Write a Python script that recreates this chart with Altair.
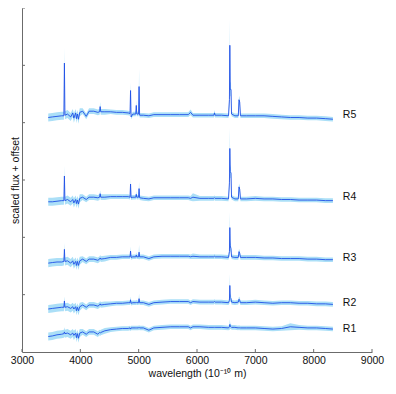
import altair as alt
import pandas as pd

# shared wavelength grid (Angstrom)
wl = [3450, 3520, 3600, 3680, 3718, 3727, 3736, 3780, 3835, 3870, 3889, 3920, 3934, 3950, 3968, 3990,
      4040, 4101, 4150, 4230, 4300, 4330, 4340, 4350, 4420, 4520, 4620, 4720, 4820, 4852, 4861, 4870,
      4900, 4950, 4959, 4968, 4998, 5007, 5016, 5080, 5175, 5260, 5400, 5550, 5700, 5850, 5890, 5930,
      6050, 6200, 6290, 6300, 6310, 6420, 6540, 6556, 6563, 6570, 6583, 6592, 6650, 6708, 6720, 6732,
      6745, 6850, 7000, 7150, 7300, 7450, 7600, 7750, 7900, 8050, 8200, 8330]

names = ["R1", "R2", "R3", "R4", "R5"]

flux_R1 = [0.27, 0.28, 0.30, 0.31, 0.32, 0.35, 0.32, 0.33, 0.30, 0.33, 0.29, 0.33, 0.25, 0.32, 0.24, 0.33,
           0.35, 0.31, 0.35, 0.35, 0.31, 0.34, 0.33, 0.34, 0.37, 0.39, 0.40, 0.41, 0.41, 0.42, 0.40, 0.42,
           0.42, 0.42, 0.42, 0.42, 0.42, 0.43, 0.42, 0.42, 0.38, 0.42, 0.43, 0.44, 0.44, 0.44, 0.42, 0.44,
           0.44, 0.43, 0.43, 0.43, 0.43, 0.43, 0.42, 0.44, 0.48, 0.45, 0.44, 0.43, 0.43, 0.42, 0.43, 0.42,
           0.42, 0.42, 0.42, 0.41, 0.40, 0.41, 0.44, 0.43, 0.42, 0.42, 0.41, 0.40]
flux_R2 = [0.75, 0.76, 0.77, 0.78, 0.78, 0.89, 0.78, 0.79, 0.76, 0.79, 0.75, 0.79, 0.72, 0.78, 0.72, 0.79,
           0.82, 0.78, 0.82, 0.82, 0.80, 0.82, 0.84, 0.82, 0.83, 0.84, 0.85, 0.85, 0.86, 0.86, 0.91, 0.85,
           0.86, 0.86, 0.87, 0.86, 0.86, 0.93, 0.86, 0.86, 0.83, 0.86, 0.87, 0.88, 0.88, 0.88, 0.86, 0.88,
           0.87, 0.87, 0.87, 0.88, 0.87, 0.87, 0.86, 0.90, 1.16, 0.95, 0.93, 0.87, 0.86, 0.87, 0.92, 0.90,
           0.86, 0.86, 0.87, 0.86, 0.85, 0.86, 0.86, 0.85, 0.85, 0.84, 0.84, 0.83]
flux_R3 = [1.55, 1.56, 1.57, 1.57, 1.58, 1.79, 1.58, 1.59, 1.55, 1.59, 1.53, 1.58, 1.51, 1.58, 1.51, 1.59,
           1.62, 1.58, 1.62, 1.62, 1.60, 1.62, 1.64, 1.62, 1.63, 1.65, 1.65, 1.66, 1.66, 1.66, 1.76, 1.65,
           1.66, 1.66, 1.69, 1.66, 1.66, 1.74, 1.66, 1.66, 1.63, 1.66, 1.67, 1.67, 1.67, 1.67, 1.66, 1.67,
           1.66, 1.66, 1.66, 1.67, 1.66, 1.66, 1.65, 1.75, 2.17, 1.85, 1.80, 1.66, 1.65, 1.65, 1.75, 1.72,
           1.65, 1.65, 1.65, 1.64, 1.64, 1.63, 1.63, 1.63, 1.62, 1.62, 1.61, 1.61]
flux_R4 = [2.62, 2.62, 2.63, 2.64, 2.64, 3.07, 2.64, 2.66, 2.62, 2.66, 2.60, 2.66, 2.59, 2.65, 2.58, 2.68,
           2.70, 2.66, 2.70, 2.70, 2.69, 2.70, 2.76, 2.70, 2.70, 2.71, 2.71, 2.71, 2.71, 2.70, 2.93, 2.69,
           2.70, 2.70, 2.75, 2.70, 2.70, 2.85, 2.69, 2.68, 2.67, 2.69, 2.69, 2.69, 2.69, 2.69, 2.68, 2.70,
           2.68, 2.68, 2.68, 2.69, 2.68, 2.68, 2.67, 2.95, 3.55, 3.15, 3.12, 2.70, 2.67, 2.67, 2.88, 2.84,
           2.67, 2.67, 2.68, 2.67, 2.67, 2.66, 2.66, 2.65, 2.65, 2.65, 2.64, 2.64]
flux_R5 = [4.09, 4.10, 4.11, 4.12, 4.12, 5.04, 4.13, 4.15, 4.10, 4.17, 4.08, 4.17, 4.07, 4.15, 4.06, 4.18,
           4.20, 4.11, 4.20, 4.20, 4.18, 4.19, 4.28, 4.19, 4.19, 4.19, 4.18, 4.18, 4.17, 4.16, 4.56, 4.10,
           4.15, 4.15, 4.30, 4.15, 4.15, 4.63, 4.13, 4.13, 4.12, 4.14, 4.14, 4.14, 4.14, 4.14, 4.18, 4.13,
           4.13, 4.13, 4.13, 4.17, 4.13, 4.13, 4.12, 4.40, 5.35, 4.58, 4.58, 4.15, 4.12, 4.12, 4.40, 4.36,
           4.12, 4.12, 4.12, 4.12, 4.11, 4.10, 4.09, 4.09, 4.08, 4.08, 4.07, 4.06]

err_R1 = [0.07, 0.07, 0.07, 0.07, 0.07, 0.08, 0.07, 0.07, 0.07, 0.07, 0.08, 0.07, 0.08, 0.07, 0.08, 0.07,
          0.05, 0.05, 0.05, 0.05, 0.05, 0.05, 0.05, 0.05, 0.05, 0.04, 0.04, 0.04, 0.04, 0.04, 0.04, 0.04,
          0.04, 0.04, 0.04, 0.04, 0.04, 0.04, 0.04, 0.04, 0.04, 0.04, 0.04, 0.04, 0.04, 0.04, 0.04, 0.04,
          0.04, 0.04, 0.04, 0.04, 0.04, 0.04, 0.04, 0.05, 0.09, 0.05, 0.04, 0.04, 0.04, 0.04, 0.04, 0.04,
          0.04, 0.04, 0.04, 0.04, 0.04, 0.04, 0.06, 0.04, 0.04, 0.04, 0.04, 0.04]
err_R2 = [0.07, 0.07, 0.07, 0.07, 0.07, 0.08, 0.07, 0.07, 0.07, 0.07, 0.08, 0.07, 0.08, 0.07, 0.08, 0.07,
          0.05, 0.05, 0.05, 0.05, 0.05, 0.05, 0.05, 0.05, 0.05, 0.04, 0.04, 0.04, 0.04, 0.04, 0.06, 0.04,
          0.04, 0.04, 0.04, 0.04, 0.04, 0.09, 0.04, 0.04, 0.04, 0.04, 0.04, 0.04, 0.04, 0.04, 0.04, 0.04,
          0.04, 0.04, 0.04, 0.04, 0.04, 0.04, 0.04, 0.06, 0.20, 0.07, 0.06, 0.04, 0.04, 0.04, 0.05, 0.05,
          0.04, 0.04, 0.04, 0.04, 0.04, 0.04, 0.04, 0.04, 0.04, 0.04, 0.04, 0.04]
err_R3 = [0.07, 0.07, 0.07, 0.07, 0.07, 0.11, 0.07, 0.07, 0.07, 0.07, 0.08, 0.07, 0.08, 0.07, 0.08, 0.07,
          0.05, 0.05, 0.05, 0.05, 0.05, 0.05, 0.05, 0.05, 0.05, 0.04, 0.04, 0.04, 0.04, 0.04, 0.08, 0.04,
          0.04, 0.04, 0.05, 0.04, 0.04, 0.13, 0.04, 0.04, 0.04, 0.04, 0.04, 0.04, 0.04, 0.04, 0.04, 0.05,
          0.04, 0.04, 0.04, 0.04, 0.04, 0.04, 0.04, 0.07, 0.27, 0.09, 0.07, 0.04, 0.04, 0.04, 0.05, 0.05,
          0.04, 0.04, 0.04, 0.04, 0.04, 0.04, 0.04, 0.04, 0.04, 0.04, 0.04, 0.04]
err_R4 = [0.07, 0.07, 0.07, 0.07, 0.07, 0.18, 0.07, 0.07, 0.07, 0.07, 0.08, 0.07, 0.08, 0.07, 0.08, 0.07,
          0.05, 0.05, 0.05, 0.05, 0.05, 0.05, 0.06, 0.05, 0.05, 0.04, 0.04, 0.04, 0.04, 0.04, 0.09, 0.04,
          0.04, 0.04, 0.06, 0.04, 0.04, 0.12, 0.04, 0.04, 0.04, 0.04, 0.04, 0.04, 0.04, 0.04, 0.04, 0.07,
          0.04, 0.04, 0.04, 0.04, 0.04, 0.04, 0.04, 0.09, 0.36, 0.11, 0.09, 0.04, 0.04, 0.04, 0.06, 0.06,
          0.04, 0.04, 0.04, 0.04, 0.04, 0.04, 0.04, 0.04, 0.04, 0.04, 0.04, 0.04]
err_R5 = [0.07, 0.07, 0.07, 0.07, 0.07, 0.27, 0.07, 0.07, 0.07, 0.07, 0.08, 0.07, 0.08, 0.07, 0.08, 0.07,
          0.05, 0.05, 0.05, 0.05, 0.05, 0.05, 0.08, 0.05, 0.05, 0.04, 0.04, 0.04, 0.04, 0.04, 0.14, 0.04,
          0.04, 0.04, 0.09, 0.04, 0.04, 0.31, 0.04, 0.04, 0.04, 0.04, 0.04, 0.04, 0.04, 0.04, 0.05, 0.04,
          0.04, 0.04, 0.04, 0.05, 0.04, 0.04, 0.04, 0.11, 0.46, 0.13, 0.11, 0.04, 0.04, 0.04, 0.07, 0.07,
          0.04, 0.04, 0.04, 0.04, 0.04, 0.04, 0.04, 0.04, 0.04, 0.04, 0.04, 0.04]

fluxes = [flux_R1, flux_R2, flux_R3, flux_R4, flux_R5]
errs = [err_R1, err_R2, err_R3, err_R4, err_R5]

label_x = 8500
label_y = [0.40, 0.85, 1.64, 2.70, 4.13]
x_ticks = [3000, 4000, 5000, 6000, 7000, 8000, 9000]
y_ticks = [1, 2, 3, 4, 5, 6]

rows = []
for n, fl, er in zip(names, fluxes, errs):
    for w, f, e in zip(wl, fl, er):
        rows.append({"series": n, "wl": w, "flux": f, "lo": f - e, "hi": f + e})
df = pd.DataFrame(rows)
lab_df = pd.DataFrame({"name": names, "x": [label_x] * 5, "y": label_y})
xt_df = pd.DataFrame({"t": x_ticks})
yt_df = pd.DataFrame({"t": y_ticks})

W, H = 350, 344
FONT = "Liberation Sans"
AX = "#6b6b6b"
xs = alt.Scale(domain=[3000, 9000], nice=False, zero=False)
ys = alt.Scale(domain=[0, 6], nice=False, zero=False)

x_axis = alt.Axis(values=x_ticks, format="d", ticks=False, grid=False, domainColor=AX,
                  labelFont=FONT, labelFontSize=10.5, labelColor="#111", labelPadding=3,
                  labelFlush=False,
                  title="wavelength (10⁻¹⁰ m)", titleFont=FONT, titleFontSize=10.5,
                  titleFontWeight="normal", titleColor="#111", titlePadding=3)
y_axis = alt.Axis(labels=False, ticks=False, grid=False, domainColor=AX,
                  title="scaled flux + offset", titleFont=FONT, titleFontSize=10.5,
                  titleFontWeight="normal", titleColor="#111", titlePadding=2)

band = alt.Chart(df).mark_area(color="#abdff7", opacity=1).encode(
    x=alt.X("wl:Q", scale=xs, axis=x_axis),
    y=alt.Y("lo:Q", scale=ys, axis=y_axis),
    y2="hi:Q",
    detail="series:N",
)
line = alt.Chart(df).mark_line(color="#1f50e6", strokeWidth=0.9).encode(
    x=alt.X("wl:Q", scale=xs, axis=x_axis),
    y=alt.Y("flux:Q", scale=ys, axis=y_axis),
    detail="series:N",
)
labels = alt.Chart(lab_df).mark_text(align="left", baseline="middle", font=FONT,
                                     fontSize=10.5, color="#111").encode(
    x=alt.X("x:Q", scale=xs, axis=x_axis),
    y=alt.Y("y:Q", scale=ys, axis=y_axis),
    text="name:N",
)
xticks = alt.Chart(xt_df).mark_rule(color=AX, strokeWidth=1).encode(
    x=alt.X("t:Q", scale=xs, axis=x_axis),
    y=alt.value(H), y2=alt.value(H - 3),
)
yticks = alt.Chart(yt_df).mark_rule(color=AX, strokeWidth=1).encode(
    y=alt.Y("t:Q", scale=ys, axis=y_axis),
    x=alt.value(0), x2=alt.value(3),
)

chart = alt.layer(band, line, labels, xticks, yticks).properties(
    width=W, height=H,
    autosize=alt.AutoSizeParams(type="none"),
    padding={"left": 14, "top": 0, "right": 15, "bottom": 28},
).configure_view(stroke=None).configure_axis(domainWidth=1)

chart.save("out.html", embed_options={"renderer": "svg", "actions": False})
